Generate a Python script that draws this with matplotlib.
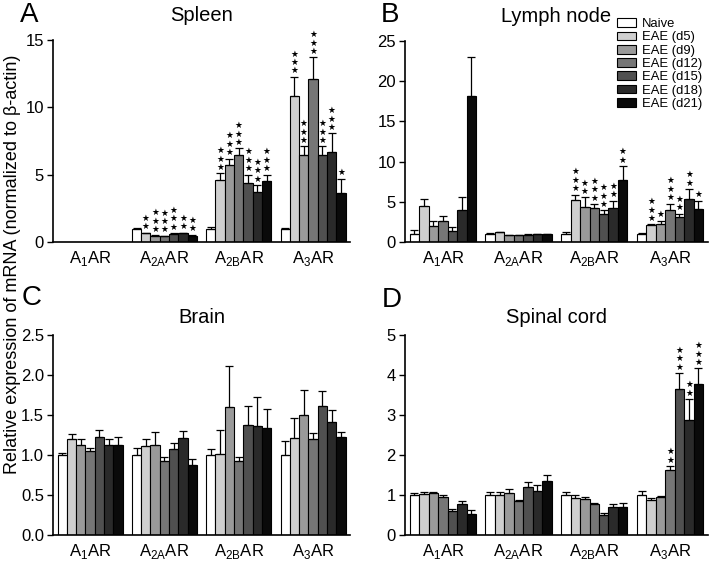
import matplotlib
matplotlib.use("Agg")
import matplotlib.pyplot as plt
import numpy as np

plt.rcParams['font.family'] = ['Liberation Sans', 'DejaVu Sans']
plt.rcParams['mathtext.fontset'] = 'custom'
plt.rcParams['mathtext.rm'] = 'Liberation Sans'

# receptores y grupos
receptores = [r'A$_\mathrm{1}$AR', r'A$_\mathrm{2A}$AR', r'A$_\mathrm{2B}$AR', r'A$_\mathrm{3}$AR']
grupos = ['Naive', 'EAE (d5)', 'EAE (d9)', 'EAE (d12)', 'EAE (d15)', 'EAE (d18)', 'EAE (d21)']
colores = ['#ffffff', '#cfcfcf', '#9a9a9a', '#767676', '#505050', '#2a2a2a', '#0a0a0a']

# Bazo (A): filas = receptor, columnas = grupo
bazo_media = [[0, 0, 0, 0, 0, 0, 0],
              [1.0, 0.65, 0.45, 0.42, 0.62, 0.65, 0.48],
              [1.0, 4.6, 5.7, 6.45, 4.4, 3.72, 4.5],
              [1.0, 10.83, 6.45, 12.1, 6.45, 6.7, 3.65]]
bazo_err = [[0, 0, 0, 0, 0, 0, 0],
            [0.05, 0.06, 0.05, 0.05, 0.06, 0.06, 0.06],
            [0.1, 0.5, 0.5, 0.5, 0.6, 0.5, 0.5],
            [0.05, 1.44, 0.65, 1.6, 0.65, 1.36, 1.05]]
bazo_sig = [[0, 0, 0, 0, 0, 0, 0],
            [0, 2, 3, 3, 3, 2, 2],
            [0, 3, 3, 3, 3, 3, 3],
            [0, 3, 3, 3, 3, 3, 1]]

# Ganglio linfatico (B)
ganglio_media = [[1.0, 4.44, 2.03, 2.66, 1.41, 3.95, 18.23],
                 [1.0, 1.2, 0.85, 0.83, 0.9, 1.0, 1.0],
                 [1.0, 5.27, 4.36, 4.24, 3.49, 4.24, 7.77],
                 [1.0, 2.08, 2.24, 4.03, 3.07, 5.36, 4.11]]
ganglio_err = [[0.45, 0.92, 0.54, 0.54, 0.42, 1.61, 4.77],
               [0.1, 0.1, 0.05, 0.05, 0.05, 0.05, 0.05],
               [0.25, 0.63, 1.2, 0.49, 0.46, 0.91, 1.66],
               [0.1, 0.12, 0.42, 0.75, 0.46, 1.24, 1.04]]
ganglio_sig = [[0, 0, 0, 0, 0, 0, 0],
               [0, 0, 0, 0, 0, 0, 0],
               [0, 3, 2, 3, 3, 2, 2],
               [0, 3, 1, 3, 2, 2, 1]]

# Cerebro (C)
cerebro_media = [[1.0, 1.196, 1.13, 1.046, 1.22, 1.13, 1.13],
                 [1.0, 1.11, 1.12, 0.93, 1.08, 1.21, 0.87],
                 [1.0, 1.01, 1.6, 0.93, 1.38, 1.36, 1.34],
                 [1.0, 1.21, 1.5, 1.2, 1.62, 1.41, 1.22]]
cerebro_err = [[0.03, 0.064, 0.07, 0.044, 0.09, 0.07, 0.1],
               [0.09, 0.09, 0.17, 0.04, 0.07, 0.09, 0.08],
               [0.08, 0.3, 0.51, 0.04, 0.24, 0.37, 0.24],
               [0.18, 0.25, 0.31, 0.07, 0.18, 0.16, 0.07]]

# Medula espinal (D)
medula_media = [[1.0, 1.03, 1.04, 0.95, 0.6, 0.78, 0.53],
                [1.0, 1.0, 1.05, 0.84, 1.21, 1.09, 1.34],
                [1.0, 0.93, 0.9, 0.78, 0.51, 0.71, 0.71],
                [1.0, 0.87, 0.95, 1.62, 3.65, 2.88, 3.78]]
medula_err = [[0.05, 0.05, 0.03, 0.04, 0.06, 0.08, 0.09],
              [0.08, 0.07, 0.11, 0.03, 0.12, 0.17, 0.15],
              [0.07, 0.08, 0.06, 0.03, 0.04, 0.06, 0.08],
              [0.1, 0.06, 0.02, 0.11, 0.4, 0.52, 0.39]]
medula_sig = [[0, 0, 0, 0, 0, 0, 0],
              [0, 0, 0, 0, 0, 0, 0],
              [0, 0, 0, 0, 0, 0, 0],
              [0, 0, 0, 2, 3, 2, 3]]

ancho = 0.125


def panel(ax, media, err, sig, titulo, ymax, paso, fmt, pad):
    media = np.array(media)
    err = np.array(err)
    x = np.arange(len(receptores))
    for j in range(len(grupos)):
        pos = x + (j - 3) * ancho
        alto = media[:, j]
        ax.bar(pos, alto, width=ancho, color=colores[j], edgecolor='black',
               linewidth=0.8, label=grupos[j], zorder=2)
        mask = alto > 0
        ax.errorbar(pos[mask], alto[mask], yerr=[np.zeros(mask.sum()), err[mask, j]],
                    fmt='none', ecolor='black', elinewidth=0.9, capsize=3, capthick=0.9, zorder=3)
        if sig is not None:
            for i in range(len(receptores)):
                n = sig[i][j]
                if n > 0:
                    ax.annotate('\n'.join(['★'] * n), (pos[i], alto[i] + err[i, j]),
                                xytext=(0, 1), textcoords='offset points', ha='center',
                                va='bottom', fontsize=6.3, linespacing=0.92,
                                family='DejaVu Sans', zorder=4)
    ax.set_xlim(-0.5, 3.5)
    ax.set_ylim(0, ymax)
    ax.set_yticks(np.arange(0, ymax + paso / 2, paso))
    ax.yaxis.set_major_formatter(matplotlib.ticker.FormatStrFormatter(fmt))
    ax.set_xticks(x)
    ax.set_xticklabels(receptores, fontsize=12)
    ax.tick_params(axis='x', length=0, pad=5)
    ax.tick_params(axis='y', labelsize=12, direction='out', length=4, width=1, pad=2.5)
    for s in ['top', 'right']:
        ax.spines[s].set_visible(False)
    for s in ['left', 'bottom']:
        ax.spines[s].set_linewidth(1.2)
    ax.set_title(titulo, fontsize=14.5, pad=pad)


fig = plt.figure(figsize=(7.11, 5.63), dpi=100)
axA = fig.add_axes([0.0745, 0.570, 0.418, 0.359])
axB = fig.add_axes([0.5696, 0.570, 0.426, 0.357])
axC = fig.add_axes([0.0745, 0.0497, 0.418, 0.355])
axD = fig.add_axes([0.5696, 0.0497, 0.426, 0.355])

panel(axA, bazo_media, bazo_err, bazo_sig, 'Spleen', 15, 5, '%d', 14)
panel(axB, ganglio_media, ganglio_err, ganglio_sig, 'Lymph node', 25, 5, '%d', 14)
panel(axC, cerebro_media, cerebro_err, None, 'Brain', 2.5, 0.5, '%.1f', 9)
panel(axD, medula_media, medula_err, medula_sig, 'Spinal cord', 5, 1, '%d', 9)

# letras de panel
for letra, px, py in [('A', 20, 2), ('B', 381, 2), ('C', 22, 285), ('D', 382, 287)]:
    fig.text(px / 711, 1 - py / 563, letra, fontsize=20, va='top', ha='left')

axB.legend(loc='upper right', bbox_to_anchor=(1.0, 1.14), frameon=False, fontsize=9.4,
           handlelength=1.45, handleheight=0.65, labelspacing=0.1, handletextpad=0.45,
           borderaxespad=0)

fig.text(0.017, 0.53, 'Relative expression of mRNA (normalized to β-actin)',
         rotation=90, va='center', ha='center', fontsize=13)

fig.savefig('out.png', dpi=100)
